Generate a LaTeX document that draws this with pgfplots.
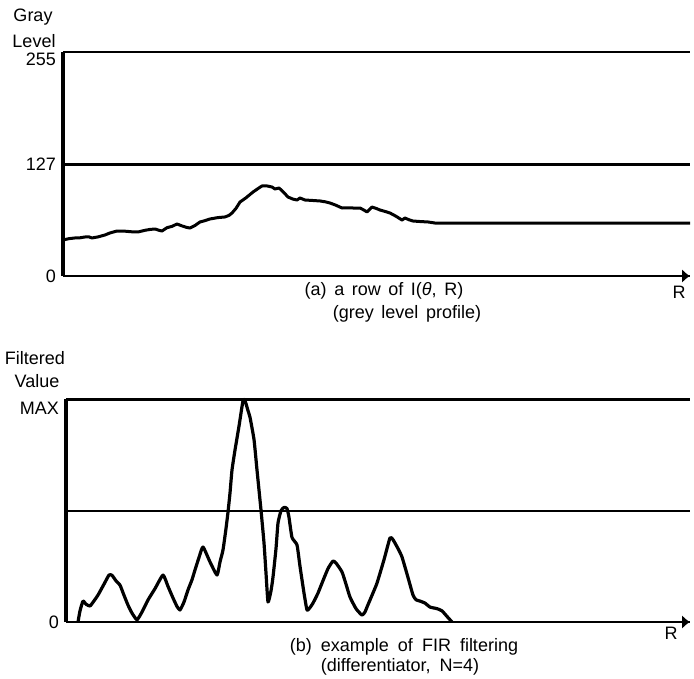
\documentclass[border=0pt]{standalone}
\usepackage{pgfplots}
\pgfplotsset{compat=1.18}
\usepackage{fontspec}
\setmainfont{Liberation Sans}
\usetikzlibrary{arrows.meta}
\pgfplotstableread{
x y
63 41.0
69 42.5
75 43.3
80 43.5
85 44.4
89 44.5
92 43.3
98 44.5
105 46.7
110 49
117 51.2
125 51
132 50.3
138 50.1
145 52
150 53
155 53.5
159 52
162 51.2
167 55
172 56.5
177 59.2
182 57
186 55.5
190 54.6
195 57.5
200 61.5
205 63
210 64.9
218 66.5
225 67.2
229 69
232 71.7
236 77
240 84.2
246 89
253 95.6
258 99.5
262 102.5
267 102.5
272 101.3
275 99.0
279 100.2
283 96
288 89.9
293 87.5
297 86.5
300 88.8
305 86.5
312 86
320 85.4
325 84.5
330 83.1
336 80.5
342 77.4
350 77.6
356 77.2
360 77.4
364 75
367 72.9
372 78.5
376 77
380 75.1
385 73.5
390 71.7
396 68
402 63.7
405 66.0
409 64
413 62.6
420 62
428 61.5
435 60.3
460 60.3
690 60.3
}\grey
\pgfplotstableread{
x y
78 0
80 5
83 9.4
86 8
90 7.2
94 9.5
98 12.1
104 17
109 21.1
112 21
116 18.5
120 16.6
124 12
128 7.6
132 4
137 1.0
142 4.5
148 9.9
155 15
163 21.1
168 16
173 10.8
177 7
180 5.4
184 9
188 14.4
192 19
195 23.4
199 29
203 33.7
210 27
217 21.1
220 27
223 32.4
226 42
228 49.4
230 58
232 68.3
235 77.3
239 88
243 99.5
245 99.5
248 95
250 92
254 82
257 68.3
261 50.3
264 35.5
266 22
268 9.0
271 14
273 20.2
276 33
278 44.5
281 50
284 51.5
287 51
289 47
292 38
297 34.6
300 25
304 13
307 5.4
310 6.5
313 8.5
318 13
322 17.5
328 24
333 27.4
336 26.5
342 22.5
346 17
350 11.2
356 6
362 3.1
365 4.5
367 6.7
372 12
377 17.5
384 28
390 37.8
393 37
398 33
402 29.2
408 20
413 12.1
416 10
420 9.4
425 8.5
430 6.7
437 6
442 5
447 2.5
452 0
}\filt
\pgfplotstableread{
x y
452 0
690 0
}\filttail
\newcommand{\f}{\fontsize{9}{10.8}\selectfont}
\newcommand{\fw}{\fontsize{9}{10.8}\selectfont\spaceskip=0.5em plus 0.1em}
\newcommand{\fv}{\fontsize{9}{10.8}\selectfont\spaceskip=0.42em plus 0.1em}
\begin{document}
\begin{tikzpicture}[x=0.5pt,y=0.5pt]
\path[use as bounding box] (0,0) rectangle (694,678);
\pgfplotsset{
  myax/.style={
    anchor=south west, scale only axis,
    axis x line=bottom, axis y line=left,
    x axis line style={line width=1.4pt,-{Latex[length=4pt,width=7pt]}},
    y axis line style={line width=1.6pt,-},
    xtick=\empty, major tick length=0pt,
    ymajorgrids, grid style={black, line width=1.1pt},
    ticklabel style={font=\f},
    /pgf/number format/assume math mode=true,
    clip=false,
  }
}
\begin{axis}[myax,
  at={(31.5pt,201pt)}, width=313.5pt, height=112pt,
  xmin=63, xmax=690, ymin=0, ymax=255,
  ytick={0,127}, yticklabels={0,127},
  extra y ticks={255}, extra y tick labels={255},
  extra y tick style={yticklabel style={yshift=-3.5pt}},
]
\addplot[black, line width=1.5pt, line join=round] table[x=x,y=y] {\grey};
\end{axis}
\begin{axis}[myax,
  at={(33pt,28pt)}, width=312pt, height=111.25pt,
  xmin=66, xmax=690, ymin=0, ymax=100,
  ytick={0,50}, yticklabels={0,{}},
  extra y ticks={100}, extra y tick labels={MAX},
  extra y tick style={yticklabel style={yshift=-4.5pt}},
]
\addplot[black, line width=1.6pt, line join=round, smooth, tension=0.3] table[x=x,y=y] {\filt};
\addplot[black, line width=1.4pt] table[x=x,y=y] {\filttail};
\end{axis}
\node[font=\f] at (33,661) {Gray};
\node[font=\f] at (34,637) {Level};
\node[font=\fv] at (384,387) {(a) a row of I(\textit{θ}, R)};
\node[font=\fv] at (407,364) {(grey level profile)};
\node[font=\f] at (679,386) {R};
\node[font=\f] at (35,320) {Filtered};
\node[font=\f] at (37,297) {Value};
\node[font=\fw] at (404,31) {(b) example of FIR filtering};
\node[font=\fw] at (400,11) {(differentiator, N=4)};
\node[font=\f] at (671,45) {R};
\end{tikzpicture}
\end{document}
